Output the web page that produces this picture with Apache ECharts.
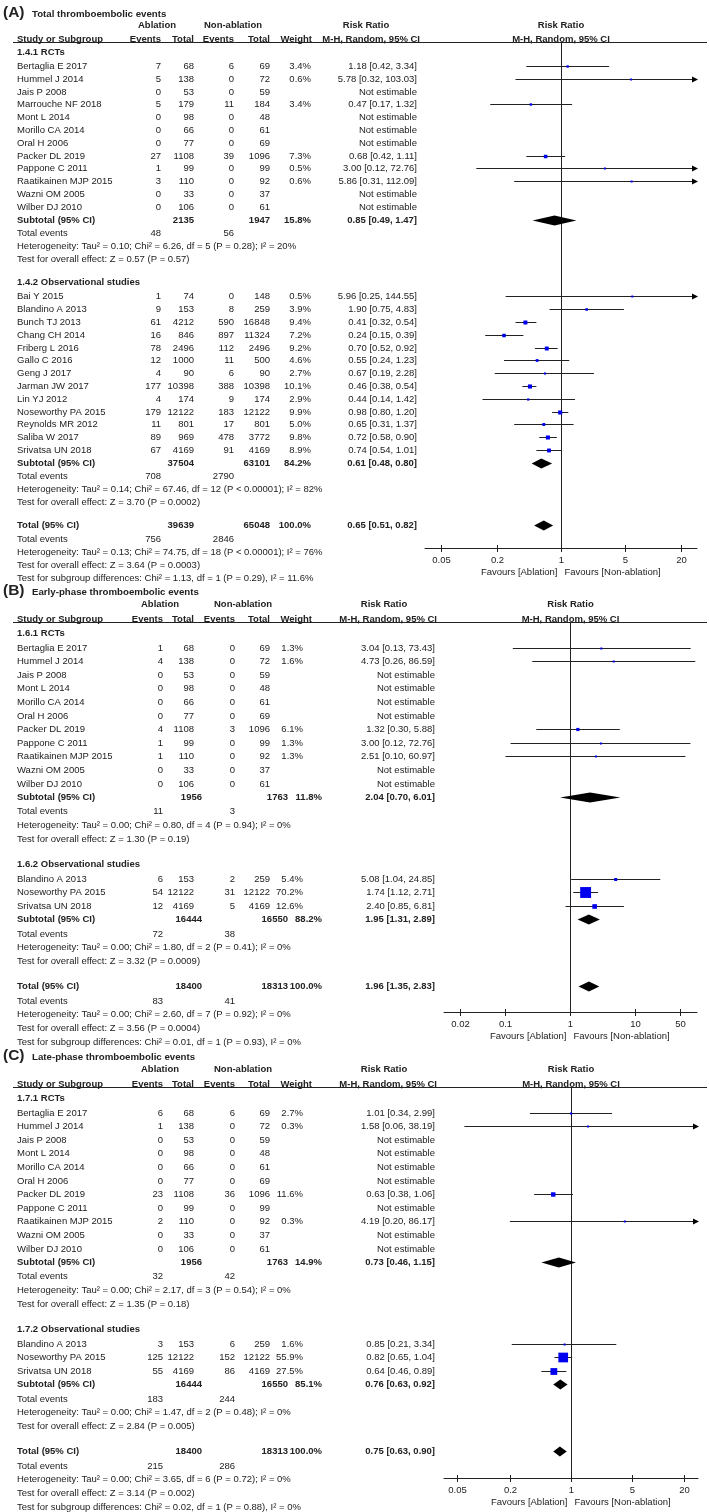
<!DOCTYPE html>
<html>
<head>
<meta charset="utf-8">
<title>thromboembolic forest plots</title>
<script src="https://cdn.jsdelivr.net/npm/echarts@6/dist/echarts.min.js"></script>
<style>
html, body { margin: 0; padding: 0; background: #fff; }
#main { width: 709px; height: 1512px; }
</style>
</head>
<body>
<div id="main"></div>
<script>
// study rows: name, ablation events, ablation total, non-ablation events, non-ablation total, weight %, RR, low, high
// (A) total thromboembolic events
var aRctStudies = [
    ['Bertaglia E 2017', 7, 68, 6, 69, 3.4, 1.18, 0.42, 3.34],
    ['Hummel J 2014', 5, 138, 0, 72, 0.6, 5.78, 0.32, 103.03],
    ['Jais P 2008', 0, 53, 0, 59, null, null, null, null],
    ['Marrouche NF 2018', 5, 179, 11, 184, 3.4, 0.47, 0.17, 1.32],
    ['Mont L 2014', 0, 98, 0, 48, null, null, null, null],
    ['Morillo CA 2014', 0, 66, 0, 61, null, null, null, null],
    ['Oral H 2006', 0, 77, 0, 69, null, null, null, null],
    ['Packer DL 2019', 27, 1108, 39, 1096, 7.3, 0.68, 0.42, 1.11],
    ['Pappone C 2011', 1, 99, 0, 99, 0.5, 3.00, 0.12, 72.76],
    ['Raatikainen MJP 2015', 3, 110, 0, 92, 0.6, 5.86, 0.31, 112.09],
    ['Wazni OM 2005', 0, 33, 0, 37, null, null, null, null],
    ['Wilber DJ 2010', 0, 106, 0, 61, null, null, null, null]
];
var aRctSum = [2135, 1947, 15.8, 0.85, 0.49, 1.47];
var aRctEvents = [48, 56];
var aRctNotes = ['Heterogeneity: Tau² = 0.10; Chi² = 6.26, df = 5 (P = 0.28); I² = 20%',
    'Test for overall effect: Z = 0.57 (P = 0.57)'];
var aObsStudies = [
    ['Bai Y 2015', 1, 74, 0, 148, 0.5, 5.96, 0.25, 144.55],
    ['Blandino A 2013', 9, 153, 8, 259, 3.9, 1.90, 0.75, 4.83],
    ['Bunch TJ 2013', 61, 4212, 590, 16848, 9.4, 0.41, 0.32, 0.54],
    ['Chang CH 2014', 16, 846, 897, 11324, 7.2, 0.24, 0.15, 0.39],
    ['Friberg L 2016', 78, 2496, 112, 2496, 9.2, 0.70, 0.52, 0.92],
    ['Gallo C 2016', 12, 1000, 11, 500, 4.6, 0.55, 0.24, 1.23],
    ['Geng J 2017', 4, 90, 6, 90, 2.7, 0.67, 0.19, 2.28],
    ['Jarman JW 2017', 177, 10398, 388, 10398, 10.1, 0.46, 0.38, 0.54],
    ['Lin YJ 2012', 4, 174, 9, 174, 2.9, 0.44, 0.14, 1.42],
    ['Noseworthy PA 2015', 179, 12122, 183, 12122, 9.9, 0.98, 0.80, 1.20],
    ['Reynolds MR 2012', 11, 801, 17, 801, 5.0, 0.65, 0.31, 1.37],
    ['Saliba W 2017', 89, 969, 478, 3772, 9.8, 0.72, 0.58, 0.90],
    ['Srivatsa UN 2018', 67, 4169, 91, 4169, 8.9, 0.74, 0.54, 1.01]
];
var aObsSum = [37504, 63101, 84.2, 0.61, 0.48, 0.80];
var aObsEvents = [708, 2790];
var aObsNotes = ['Heterogeneity: Tau² = 0.14; Chi² = 67.46, df = 12 (P < 0.00001); I² = 82%',
    'Test for overall effect: Z = 3.70 (P = 0.0002)'];
var aTotal = [39639, 65048, 100.0, 0.65, 0.51, 0.82];
var aTotalEvents = [756, 2846];
var aTotalNotes = ['Heterogeneity: Tau² = 0.13; Chi² = 74.75, df = 18 (P < 0.00001); I² = 76%',
    'Test for overall effect: Z = 3.64 (P = 0.0003)',
    'Test for subgroup differences: Chi² = 1.13, df = 1 (P = 0.29), I² = 11.6%'];
var aTicks = [0.05, 0.2, 1, 5, 20];

// (B) early-phase thromboembolic events
var bRctStudies = [
    ['Bertaglia E 2017', 1, 68, 0, 69, 1.3, 3.04, 0.13, 73.43],
    ['Hummel J 2014', 4, 138, 0, 72, 1.6, 4.73, 0.26, 86.59],
    ['Jais P 2008', 0, 53, 0, 59, null, null, null, null],
    ['Mont L 2014', 0, 98, 0, 48, null, null, null, null],
    ['Morillo CA 2014', 0, 66, 0, 61, null, null, null, null],
    ['Oral H 2006', 0, 77, 0, 69, null, null, null, null],
    ['Packer DL 2019', 4, 1108, 3, 1096, 6.1, 1.32, 0.30, 5.88],
    ['Pappone C 2011', 1, 99, 0, 99, 1.3, 3.00, 0.12, 72.76],
    ['Raatikainen MJP 2015', 1, 110, 0, 92, 1.3, 2.51, 0.10, 60.97],
    ['Wazni OM 2005', 0, 33, 0, 37, null, null, null, null],
    ['Wilber DJ 2010', 0, 106, 0, 61, null, null, null, null]
];
var bRctSum = [1956, 1763, 11.8, 2.04, 0.70, 6.01];
var bRctEvents = [11, 3];
var bRctNotes = ['Heterogeneity: Tau² = 0.00; Chi² = 0.80, df = 4 (P = 0.94); I² = 0%',
    'Test for overall effect: Z = 1.30 (P = 0.19)'];
var bObsStudies = [
    ['Blandino A 2013', 6, 153, 2, 259, 5.4, 5.08, 1.04, 24.85],
    ['Noseworthy PA 2015', 54, 12122, 31, 12122, 70.2, 1.74, 1.12, 2.71],
    ['Srivatsa UN 2018', 12, 4169, 5, 4169, 12.6, 2.40, 0.85, 6.81]
];
var bObsSum = [16444, 16550, 88.2, 1.95, 1.31, 2.89];
var bObsEvents = [72, 38];
var bObsNotes = ['Heterogeneity: Tau² = 0.00; Chi² = 1.80, df = 2 (P = 0.41); I² = 0%',
    'Test for overall effect: Z = 3.32 (P = 0.0009)'];
var bTotal = [18400, 18313, 100.0, 1.96, 1.35, 2.83];
var bTotalEvents = [83, 41];
var bTotalNotes = ['Heterogeneity: Tau² = 0.00; Chi² = 2.60, df = 7 (P = 0.92); I² = 0%',
    'Test for overall effect: Z = 3.56 (P = 0.0004)',
    'Test for subgroup differences: Chi² = 0.01, df = 1 (P = 0.93), I² = 0%'];
var bTicks = [0.02, 0.1, 1, 10, 50];

// (C) late-phase thromboembolic events
var cRctStudies = [
    ['Bertaglia E 2017', 6, 68, 6, 69, 2.7, 1.01, 0.34, 2.99],
    ['Hummel J 2014', 1, 138, 0, 72, 0.3, 1.58, 0.06, 38.19],
    ['Jais P 2008', 0, 53, 0, 59, null, null, null, null],
    ['Mont L 2014', 0, 98, 0, 48, null, null, null, null],
    ['Morillo CA 2014', 0, 66, 0, 61, null, null, null, null],
    ['Oral H 2006', 0, 77, 0, 69, null, null, null, null],
    ['Packer DL 2019', 23, 1108, 36, 1096, 11.6, 0.63, 0.38, 1.06],
    ['Pappone C 2011', 0, 99, 0, 99, null, null, null, null],
    ['Raatikainen MJP 2015', 2, 110, 0, 92, 0.3, 4.19, 0.20, 86.17],
    ['Wazni OM 2005', 0, 33, 0, 37, null, null, null, null],
    ['Wilber DJ 2010', 0, 106, 0, 61, null, null, null, null]
];
var cRctSum = [1956, 1763, 14.9, 0.73, 0.46, 1.15];
var cRctEvents = [32, 42];
var cRctNotes = ['Heterogeneity: Tau² = 0.00; Chi² = 2.17, df = 3 (P = 0.54); I² = 0%',
    'Test for overall effect: Z = 1.35 (P = 0.18)'];
var cObsStudies = [
    ['Blandino A 2013', 3, 153, 6, 259, 1.6, 0.85, 0.21, 3.34],
    ['Noseworthy PA 2015', 125, 12122, 152, 12122, 55.9, 0.82, 0.65, 1.04],
    ['Srivatsa UN 2018', 55, 4169, 86, 4169, 27.5, 0.64, 0.46, 0.89]
];
var cObsSum = [16444, 16550, 85.1, 0.76, 0.63, 0.92];
var cObsEvents = [183, 244];
var cObsNotes = ['Heterogeneity: Tau² = 0.00; Chi² = 1.47, df = 2 (P = 0.48); I² = 0%',
    'Test for overall effect: Z = 2.84 (P = 0.005)'];
var cTotal = [18400, 18313, 100.0, 0.75, 0.63, 0.90];
var cTotalEvents = [215, 286];
var cTotalNotes = ['Heterogeneity: Tau² = 0.00; Chi² = 3.65, df = 6 (P = 0.72); I² = 0%',
    'Test for overall effect: Z = 3.14 (P = 0.002)',
    'Test for subgroup differences: Chi² = 0.02, df = 1 (P = 0.88), I² = 0%'];
var cTicks = [0.05, 0.2, 1, 5, 20];

var FONT = '"Liberation Sans", Arial, Helvetica, sans-serif';
var INK = '#222';

// where each panel sits on the page (pixels) and its axis range
var colA = { name: 17, e1: 161, n1: 194, e2: 234, n2: 270, w: 311, rr: 417, n1b: 194, n2b: 270, wb: 311,
    abl: 157, non: 233, rrh: 366, wh: 312, mh: 420 };
var colBC = { name: 17, e1: 163, n1: 194, e2: 235, n2: 270, w: 303, rr: 435, n1b: 202, n2b: 288, wb: 322,
    abl: 160, non: 243, rrh: 384, wh: 312, mh: 437 };

var panels = [
    {
        label: '(A)', title: 'Total thromboembolic events',
        groups: [
            { name: '1.4.1 RCTs', studies: aRctStudies, sum: aRctSum, events: aRctEvents, notes: aRctNotes },
            { name: '1.4.2 Observational studies', studies: aObsStudies, sum: aObsSum, events: aObsEvents, notes: aObsNotes }
        ],
        total: aTotal, totalEvents: aTotalEvents, totalNotes: aTotalNotes, ticks: aTicks,
        box: { top: 42, bottom: 548, unit: 12.8, left: 425, right: 697, xMin: 0.0332, xMax: 30.1 },
        col: colA
    },
    {
        label: '(B)', title: 'Early-phase thromboembolic events',
        groups: [
            { name: '1.6.1 RCTs', studies: bRctStudies, sum: bRctSum, events: bRctEvents, notes: bRctNotes },
            { name: '1.6.2 Observational studies', studies: bObsStudies, sum: bObsSum, events: bObsEvents, notes: bObsNotes }
        ],
        total: bTotal, totalEvents: bTotalEvents, totalNotes: bTotalNotes, ticks: bTicks,
        box: { top: 622, bottom: 1012, unit: 13.6, left: 444, right: 697, xMin: 0.0112, xMax: 92 },
        col: colBC
    },
    {
        label: '(C)', title: 'Late-phase thromboembolic events',
        groups: [
            { name: '1.7.1 RCTs', studies: cRctStudies, sum: cRctSum, events: cRctEvents, notes: cRctNotes },
            { name: '1.7.2 Observational studies', studies: cObsStudies, sum: cObsSum, events: cObsEvents, notes: cObsNotes }
        ],
        total: cTotal, totalEvents: cTotalEvents, totalNotes: cTotalNotes, ticks: cTicks,
        box: { top: 1087, bottom: 1478, unit: 13.6, left: 444, right: 698, xMin: 0.035, xMax: 29 },
        col: colBC
    }
];

function fmtRR(rr, lo, hi) {
    return rr.toFixed(2) + ' [' + lo.toFixed(2) + ', ' + hi.toFixed(2) + ']';
}

function txt(x, y, s, align, bold, size) {
    return {
        type: 'text', x: x, y: y,
        style: { text: s, fill: INK, font: (bold ? 'bold ' : '') + (size || 9.5) + 'px ' + FONT,
            align: align || 'left', verticalAlign: 'middle' }
    };
}

function seg(x1, y1, x2, y2) {
    return { type: 'line', shape: { x1: x1, y1: y1, x2: x2, y2: y2 }, style: { stroke: INK, lineWidth: 1 } };
}

// row positions in line units below the header rule
function buildRows(p) {
    var rows = [{ kind: 'title', pos: -2.25 }, { kind: 'head1', pos: -1.3 }, { kind: 'head2', pos: -0.24 }];
    var pos = 0.78;
    p.groups.forEach(function (g, gi) {
        if (gi > 0) pos += 1.82;
        rows.push({ kind: 'section', pos: pos, text: g.name });
        g.studies.forEach(function (s, si) {
            pos += si === 0 ? 1.1 : 1;
            rows.push({ kind: 'study', pos: pos, s: s });
        });
        pos += 1; rows.push({ kind: 'subtotal', pos: pos, sum: g.sum });
        pos += 1.05; rows.push({ kind: 'events', pos: pos, ev: g.events });
        pos += 0.97; rows.push({ kind: 'note', pos: pos, text: g.notes[0] });
        pos += 1.05; rows.push({ kind: 'note', pos: pos, text: g.notes[1] });
    });
    pos += 1.82; rows.push({ kind: 'total', pos: pos, sum: p.total });
    pos += 1.1; rows.push({ kind: 'events', pos: pos, ev: p.totalEvents });
    pos += 0.97; rows.push({ kind: 'note', pos: pos, text: p.totalNotes[0] });
    pos += 1; rows.push({ kind: 'note', pos: pos, text: p.totalNotes[1] });
    pos += 1.05; rows.push({ kind: 'note', pos: pos, text: p.totalNotes[2] });
    return rows;
}

function tableRenderer(p, rows) {
    var col = p.col;
    return function (params, api) {
        var r = rows[params.dataIndex];
        var y = Math.round(api.coord([1, r.pos])[1]);
        var xm = (api.coord([p.box.xMin, 0])[0] + api.coord([p.box.xMax, 0])[0]) / 2;
        var c = [];
        if (r.kind === 'title') {
            c.push(txt(3, y, p.label, 'left', true, 15.5));
            c.push(txt(32, y + 1, p.title, 'left', true, 9.7));
        } else if (r.kind === 'head1') {
            c.push(txt(col.abl, y, 'Ablation', 'center', true));
            c.push(txt(col.non, y, 'Non-ablation', 'center', true));
            c.push(txt(col.rrh, y, 'Risk Ratio', 'center', true));
            c.push(txt(xm, y, 'Risk Ratio', 'center', true));
        } else if (r.kind === 'head2') {
            c.push(txt(col.name, y, 'Study or Subgroup', 'left', true));
            c.push(txt(col.e1, y, 'Events', 'right', true));
            c.push(txt(col.n1, y, 'Total', 'right', true));
            c.push(txt(col.e2, y, 'Events', 'right', true));
            c.push(txt(col.n2, y, 'Total', 'right', true));
            c.push(txt(col.wh, y, 'Weight', 'right', true));
            c.push(txt(col.mh, y, 'M-H, Random, 95% CI', 'right', true));
            c.push(txt(xm, y, 'M-H, Random, 95% CI', 'center', true));
        } else if (r.kind === 'section') {
            c.push(txt(col.name, y, r.text, 'left', true));
        } else if (r.kind === 'study') {
            var s = r.s;
            c.push(txt(col.name, y, s[0]));
            c.push(txt(col.e1, y, String(s[1]), 'right'));
            c.push(txt(col.n1, y, String(s[2]), 'right'));
            c.push(txt(col.e2, y, String(s[3]), 'right'));
            c.push(txt(col.n2, y, String(s[4]), 'right'));
            if (s[5] !== null) c.push(txt(col.w, y, s[5].toFixed(1) + '%', 'right'));
            c.push(txt(col.rr, y, s[6] === null ? 'Not estimable' : fmtRR(s[6], s[7], s[8]), 'right'));
        } else if (r.kind === 'subtotal' || r.kind === 'total') {
            var m = r.sum;
            c.push(txt(col.name, y, r.kind === 'total' ? 'Total (95% CI)' : 'Subtotal (95% CI)', 'left', true));
            c.push(txt(col.n1b, y, String(m[0]), 'right', true));
            c.push(txt(col.n2b, y, String(m[1]), 'right', true));
            c.push(txt(col.wb, y, m[2].toFixed(1) + '%', 'right', true));
            c.push(txt(col.rr, y, fmtRR(m[3], m[4], m[5]), 'right', true));
        } else if (r.kind === 'events') {
            c.push(txt(col.name, y, 'Total events'));
            c.push(txt(col.e1, y, String(r.ev[0]), 'right'));
            c.push(txt(col.e2, y, String(r.ev[1]), 'right'));
        } else {
            c.push(txt(col.name, y, r.text));
        }
        return { type: 'group', children: c };
    };
}

function forestRenderer(p, marks) {
    var b = p.box;
    return function (params, api) {
        var m = marks[params.dataIndex];
        var y = Math.round(api.coord([1, m.pos])[1]) + 0.5;
        var xa = api.coord([Math.max(m.lo, b.xMin), m.pos])[0];
        var xb = api.coord([Math.min(m.hi, b.xMax), m.pos])[0];
        var xc = api.coord([m.rr, m.pos])[0];
        var c = [];
        if (m.diamond) {
            c.push({ type: 'polygon', shape: { points: [[xa, y], [xc, y - 5], [xb, y], [xc, y + 5]] },
                style: { fill: '#000' } });
        } else {
            c.push(seg(xa, y, xb, y));
            if (m.hi > b.xMax) {
                c.push({ type: 'polygon', shape: { points: [[xb + 1, y], [xb - 5, y - 3], [xb - 5, y + 3]] },
                    style: { fill: '#000' } });
            }
            if (m.lo < b.xMin) {
                c.push({ type: 'polygon', shape: { points: [[xa - 1, y], [xa + 5, y - 3], [xa + 5, y + 3]] },
                    style: { fill: '#000' } });
            }
            var sz = Math.max(2, 1.3 * Math.sqrt(m.w));
            c.push({ type: 'rect', shape: { x: xc - sz / 2, y: y - sz / 2, width: sz, height: sz },
                style: { fill: '#0000ee' } });
        }
        return { type: 'group', children: c };
    };
}

var grids = [], xAxes = [], yAxes = [], series = [];

panels.forEach(function (p, i) {
    var b = p.box;
    var yMax = (b.bottom - b.top) / b.unit;
    var rows = buildRows(p);
    var marks = [];
    rows.forEach(function (r) {
        if (r.kind === 'study' && r.s[6] !== null) {
            marks.push({ pos: r.pos, rr: r.s[6], lo: r.s[7], hi: r.s[8], w: r.s[5], diamond: false });
        } else if (r.kind === 'subtotal' || r.kind === 'total') {
            marks.push({ pos: r.pos, rr: r.sum[3], lo: r.sum[4], hi: r.sum[5], w: r.sum[2], diamond: true });
        }
    });

    grids.push({ left: b.left, width: b.right - b.left, top: b.top, height: b.bottom - b.top });
    xAxes.push({
        type: 'log', logBase: 10, gridIndex: i, min: b.xMin, max: b.xMax,
        axisLine: { show: true, onZero: false, lineStyle: { color: INK, width: 1 } },
        axisTick: { show: false }, axisLabel: { show: false }, splitLine: { show: false }
    });
    yAxes.push({ type: 'value', gridIndex: i, inverse: true, min: 0, max: yMax, show: false });

    // header rule, line of no effect, favours labels
    series.push({
        type: 'custom', xAxisIndex: i, yAxisIndex: i, z: 1, silent: true,
        data: [[1, 0]],
        renderItem: function (params, api) {
            var top = api.coord([1, 0]);
            var bot = api.coord([1, yMax]);
            var x = Math.round(top[0]) + 0.5;
            var ty = Math.round(top[1]) + 0.5;
            var by = Math.round(bot[1]);
            return {
                type: 'group', children: [
                    seg(13, ty, 707, ty),
                    seg(x, ty, x, by),
                    txt(x - 4, by + 24, 'Favours [Ablation]', 'right', false, 9.5),
                    txt(x + 3, by + 24, 'Favours [Non-ablation]', 'left', false, 9.5)
                ]
            };
        }
    });
    // tick marks and labels
    series.push({
        type: 'custom', xAxisIndex: i, yAxisIndex: i, z: 1, silent: true,
        data: p.ticks.map(function (v) { return [v, yMax]; }),
        renderItem: function (params, api) {
            var pt = api.coord([api.value(0), yMax]);
            var x = Math.round(pt[0]) + 0.5;
            var y = Math.round(pt[1]);
            return {
                type: 'group', children: [
                    seg(x, y - 3, x, y + 4),
                    txt(x, y + 12, String(p.ticks[params.dataIndex]), 'center', false, 9.5)
                ]
            };
        }
    });
    series.push({
        type: 'custom', xAxisIndex: i, yAxisIndex: i, z: 3, silent: true,
        data: marks.map(function (m) { return [m.rr, m.pos]; }),
        renderItem: forestRenderer(p, marks)
    });
    series.push({
        type: 'custom', xAxisIndex: i, yAxisIndex: i, z: 2, silent: true,
        data: rows.map(function (r) { return [1, r.pos]; }),
        renderItem: tableRenderer(p, rows)
    });
});

var chart = echarts.init(document.getElementById('main'));
chart.setOption({
    animation: false,
    backgroundColor: '#fff',
    grid: grids,
    xAxis: xAxes,
    yAxis: yAxes,
    series: series
});
</script>
</body>
</html>
